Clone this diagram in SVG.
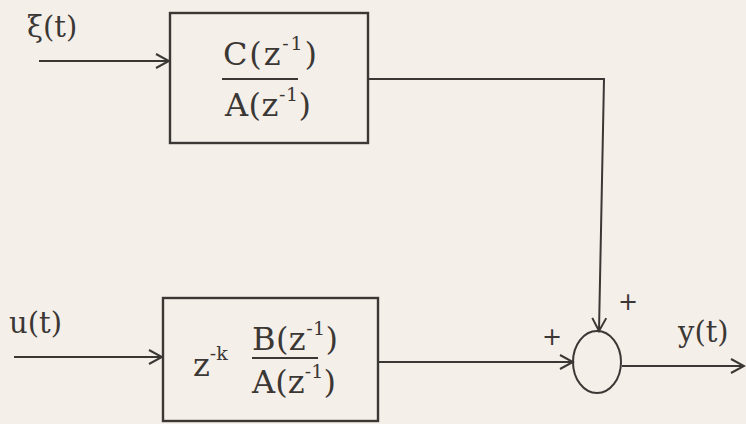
<svg xmlns="http://www.w3.org/2000/svg" width="746" height="424" viewBox="0 0 746 424">
<defs>
<style>
.ln{fill:none;stroke:#3b3735;stroke-width:2;}
.bx{fill:none;stroke:#3b3735;stroke-width:2.4;}
.t{font-family:"DejaVu Serif","Liberation Serif",serif;font-size:29px;fill:#3b3735;}
.f{font-family:"DejaVu Serif","Liberation Serif",serif;font-size:32px;fill:#3b3735;}
.s{font-size:19px;}
.p{font-family:"DejaVu Sans","Liberation Sans",sans-serif;font-size:24px;fill:#3b3735;}
</style>
<marker id="ah" viewBox="0 0 16 16" refX="14" refY="8" markerWidth="16" markerHeight="16" markerUnits="userSpaceOnUse" orient="auto">
<path d="M1,1 L14,8 L1,15" fill="none" stroke="#3b3735" stroke-width="2"/>
</marker>
</defs>
<rect width="746" height="424" fill="#f5efe9"/>
<g id="connectors">
<line class="ln" x1="39" y1="61" x2="169" y2="61" marker-end="url(#ah)"/>
<line class="ln" x1="14" y1="357" x2="162" y2="357" marker-end="url(#ah)"/>
<polyline class="ln" points="368,79 604,79 599,331" marker-end="url(#ah)"/>
<line class="ln" x1="378" y1="362" x2="573" y2="362" marker-end="url(#ah)"/>
<line class="ln" x1="622" y1="366" x2="744" y2="366" marker-end="url(#ah)"/>
</g>
<g id="label-xi"><text class="t" x="27" y="37">ξ(t)</text></g>
<g id="label-u"><text class="t" x="9" y="333">u(t)</text></g>
<g id="label-y"><text class="t" x="678" y="342">y(t)</text></g>
<g id="box-C">
<rect class="bx" x="170" y="13" width="198" height="130"/>
<text class="f" x="223" y="65" textLength="94" lengthAdjust="spacing">C(z<tspan class="s" dy="-15">-1</tspan><tspan dy="15">)</tspan></text>
<line class="ln" x1="222" y1="79" x2="298" y2="79"/>
<text class="f" x="225" y="116" textLength="86" lengthAdjust="spacing">A(z<tspan class="s" dy="-15">-1</tspan><tspan dy="15">)</tspan></text>
</g>
<g id="box-B">
<rect class="bx" x="163" y="298" width="215" height="123"/>
<text class="f" x="193" y="376">z<tspan class="s" dy="-16">-k</tspan></text>
<text class="f" x="252" y="350" textLength="86" lengthAdjust="spacing">B(z<tspan class="s" dy="-15">-1</tspan><tspan dy="15">)</tspan></text>
<line class="ln" x1="252" y1="358" x2="318" y2="358"/>
<text class="f" x="252" y="393" textLength="84" lengthAdjust="spacing">A(z<tspan class="s" dy="-15">-1</tspan><tspan dy="15">)</tspan></text>
</g>
<g id="sum">
<ellipse class="ln" cx="597" cy="362" rx="24" ry="31"/>
<text class="p" x="628" y="310" text-anchor="middle">+</text>
<text class="p" x="552" y="345" text-anchor="middle">+</text>
</g>
</svg>
